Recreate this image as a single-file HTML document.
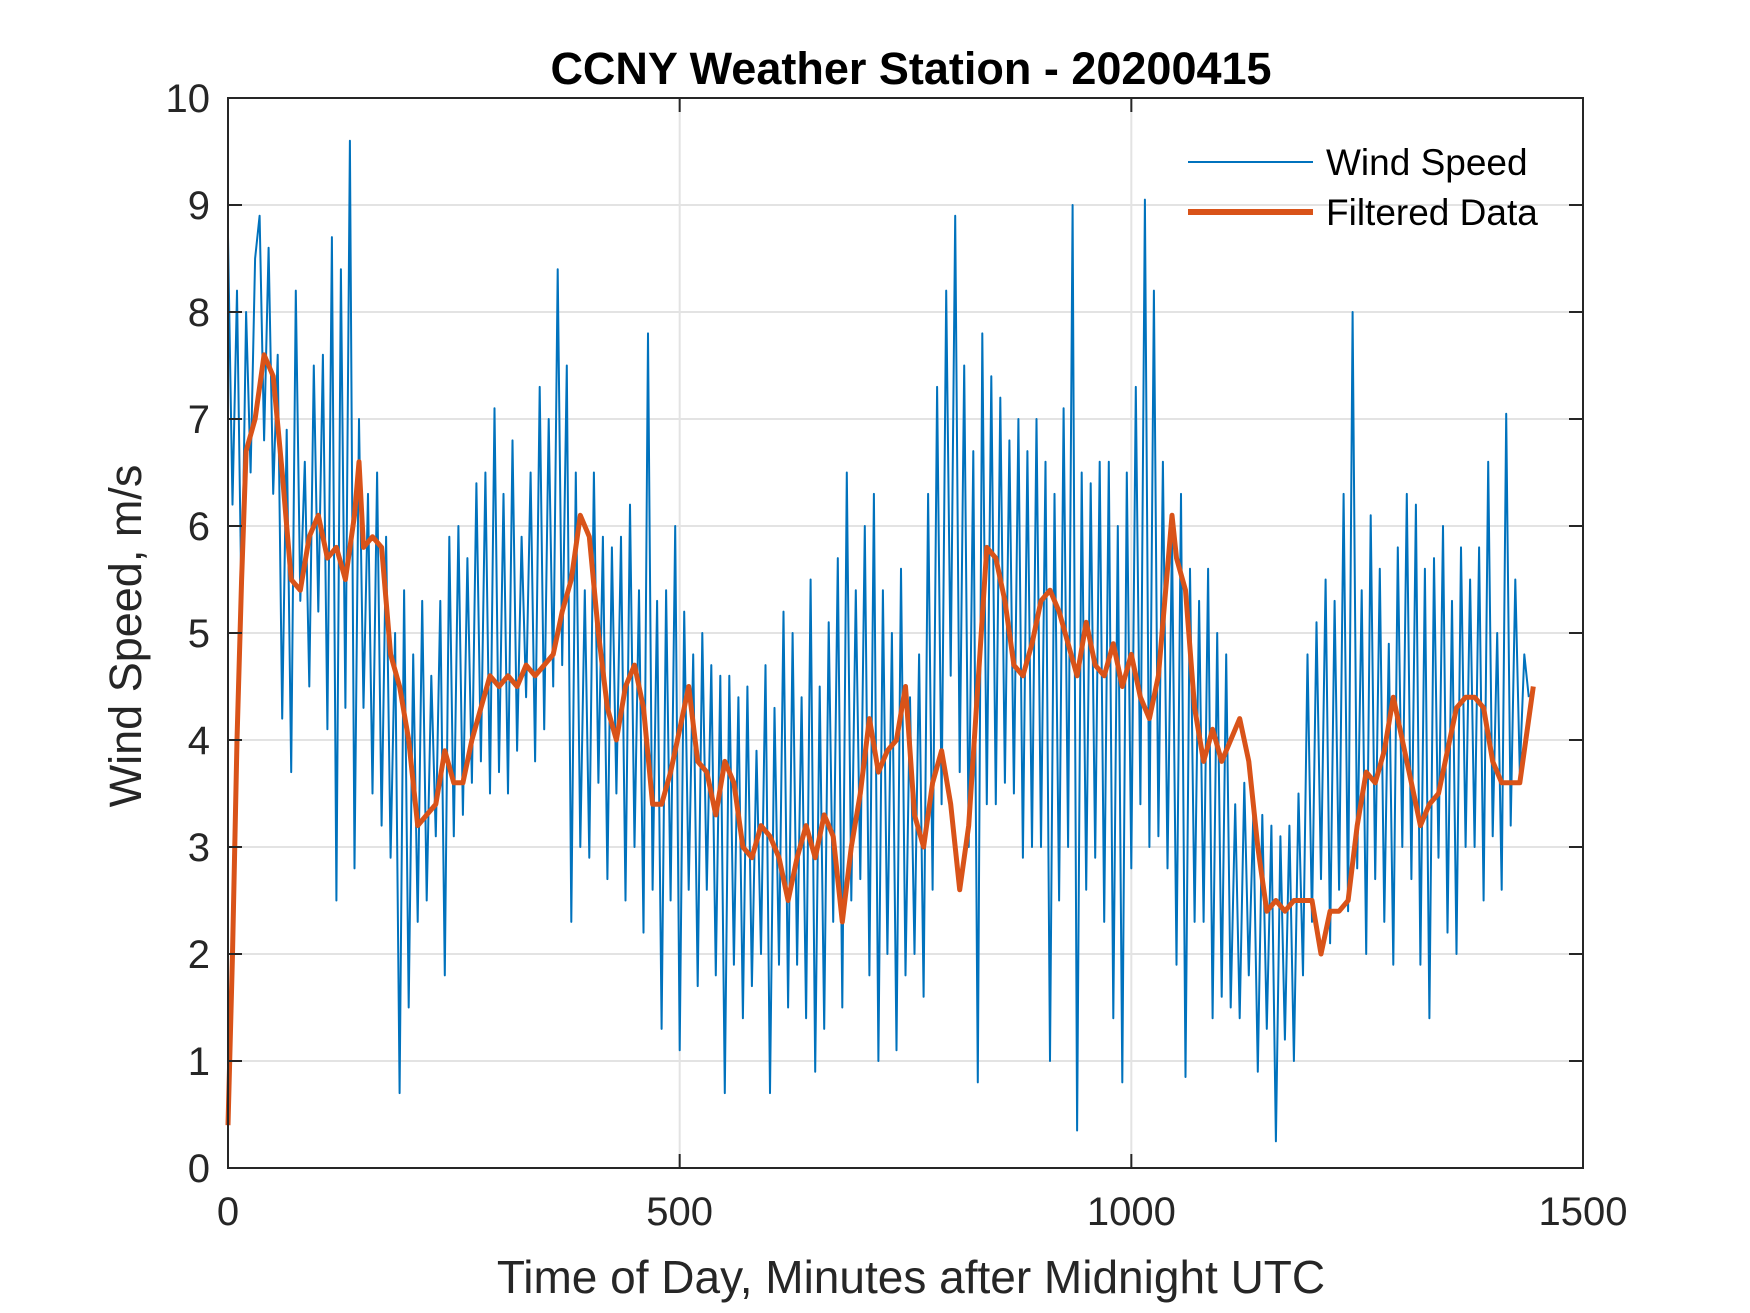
<!DOCTYPE html>
<html><head><meta charset="utf-8">
<style>
html,body{margin:0;padding:0;background:#fff;}
svg{display:block;font-family:"Liberation Sans",Arial,sans-serif;}
</style></head>
<body>
<svg id="chart" width="1750" height="1313" viewBox="0 0 1750 1313">
  <rect x="0" y="0" width="1750" height="1313" fill="#fff"/>
  <g id="grid"></g>
  <g id="series"></g>
  <g id="axes"></g>
  <text x="911" y="84" text-anchor="middle" font-size="45" font-weight="bold" fill="#000">CCNY Weather Station - 20200415</text>
  <text x="0" y="0" transform="translate(141,636) rotate(-90)" text-anchor="middle" font-size="45" fill="#262626">Wind Speed, m/s</text>
  <text x="911" y="1293" text-anchor="middle" font-size="46" fill="#262626">Time of Day, Minutes after Midnight UTC</text>
  <g>
    <g>
      <line x1="1188" y1="162" x2="1313" y2="162" stroke="#0072BD" stroke-width="2"/>
      <text x="1326" y="175" font-size="37" fill="#000">Wind Speed</text>
    </g>
    <g>
      <line x1="1188" y1="212" x2="1313" y2="212" stroke="#D95319" stroke-width="6"/>
      <text x="1326" y="225" font-size="37" fill="#000">Filtered Data</text>
    </g>
  </g>
</svg>
<script>
const xTicks = [0, 500, 1000, 1500];
const yTicks = [0,1,2,3,4,5,6,7,8,9,10];
const windStep = 5;
const windSpeed = [
8.7,6.2,8.2,5.2,8.0,6.5,8.5,8.9,6.8,8.6,6.3,7.6,
4.2,6.9,3.7,8.2,5.3,6.6,4.5,7.5,5.2,7.6,4.1,8.7,
2.5,8.4,4.3,9.6,2.8,7.0,4.3,6.3,3.5,6.5,3.2,5.9,
2.9,5.0,0.7,5.4,1.5,4.8,2.3,5.3,2.5,4.6,3.1,5.3,
1.8,5.9,3.1,6.0,3.3,5.7,3.6,6.4,3.8,6.5,3.5,7.1,
3.7,6.3,3.5,6.8,3.9,5.9,4.4,6.5,3.8,7.3,4.1,7.0,
4.5,8.4,4.7,7.5,2.3,6.5,3.0,5.4,2.9,6.5,3.6,5.9,
2.7,5.8,3.5,5.9,2.5,6.2,3.0,5.4,2.2,7.8,2.6,5.3,
1.3,5.4,2.5,6.0,1.1,5.2,2.6,4.8,1.7,5.0,2.6,4.7,
1.8,4.6,0.7,4.6,1.9,4.4,1.4,4.5,1.7,3.9,2.0,4.7,
0.7,4.3,1.9,5.2,1.5,5.0,1.9,4.4,1.4,5.5,0.9,4.5,
1.3,5.1,2.3,5.7,1.5,6.5,2.5,5.4,2.7,6.0,1.8,6.3,
1.0,5.4,2.0,5.0,1.1,5.6,1.8,4.4,2.0,4.8,1.6,6.3,
2.6,7.3,3.4,8.2,4.6,8.9,3.7,7.5,3.0,6.7,0.8,7.8,
3.4,7.4,3.4,7.2,3.6,6.8,3.5,7.0,2.9,6.7,3.0,7.0,
3.0,6.6,1.0,6.3,2.5,7.1,3.0,9.0,0.35,6.5,2.6,6.4,
2.9,6.6,2.3,6.6,1.4,6.0,0.8,6.5,2.8,7.3,3.4,9.05,
3.0,8.2,3.1,6.6,2.8,5.9,1.9,6.3,0.85,5.6,2.3,5.3,
2.3,5.6,1.4,5.0,1.6,4.8,1.5,3.4,1.4,3.6,1.8,3.3,
0.9,3.3,1.3,3.2,0.25,3.1,1.2,3.2,1.0,3.5,1.8,4.8,
2.3,5.1,2.7,5.5,2.1,5.3,2.6,6.3,2.4,8.0,2.8,5.4,
2.0,6.1,2.7,5.6,2.3,4.9,1.9,5.8,3.0,6.3,2.7,6.2,
1.9,5.6,1.4,5.7,2.9,6.0,2.2,5.3,2.0,5.8,3.0,5.5,
3.0,5.8,2.5,6.6,3.1,5.0,2.6,7.05,3.2,5.5,3.7,4.8,4.4
];
const filteredT = [0,5,10,15,20,30,40,50,60,70,80,90,100,110,120,130,140,145,150,160,170,180,190,200,210,220,230,240,250,260,270,280,290,300,310,320,330,340,350,360,370,380,390,400,410,420,430,440,450,460,470,480,490,500,510,520,530,540,550,560,570,580,590,600,610,620,630,640,650,660,670,680,690,700,710,720,730,740,750,760,770,780,790,800,810,820,830,840,850,860,870,880,890,900,910,920,930,940,950,960,970,980,990,1000,1010,1020,1030,1040,1045,1050,1060,1070,1080,1090,1100,1110,1120,1130,1140,1150,1160,1170,1180,1190,1200,1210,1220,1230,1240,1250,1260,1270,1280,1290,1300,1310,1320,1330,1340,1350,1360,1370,1380,1390,1400,1410,1420,1430,1440,1445];
const filteredV = [0.4,2.0,4.0,5.5,6.7,7.0,7.6,7.4,6.5,5.5,5.4,5.9,6.1,5.7,5.8,5.5,6.1,6.6,5.8,5.9,5.8,4.8,4.5,4.0,3.2,3.3,3.4,3.9,3.6,3.6,4.0,4.3,4.6,4.5,4.6,4.5,4.7,4.6,4.7,4.8,5.2,5.5,6.1,5.9,5.0,4.3,4.0,4.5,4.7,4.3,3.4,3.4,3.7,4.1,4.5,3.8,3.7,3.3,3.8,3.6,3.0,2.9,3.2,3.1,2.9,2.5,2.9,3.2,2.9,3.3,3.1,2.3,3.0,3.5,4.2,3.7,3.9,4.0,4.5,3.3,3.0,3.6,3.9,3.4,2.6,3.2,4.5,5.8,5.7,5.3,4.7,4.6,4.9,5.3,5.4,5.2,4.9,4.6,5.1,4.7,4.6,4.9,4.5,4.8,4.4,4.2,4.6,5.6,6.1,5.7,5.4,4.3,3.8,4.1,3.8,4.0,4.2,3.8,3.0,2.4,2.5,2.4,2.5,2.5,2.5,2.0,2.4,2.4,2.5,3.2,3.7,3.6,3.9,4.4,4.0,3.6,3.2,3.4,3.5,3.9,4.3,4.4,4.4,4.3,3.8,3.6,3.6,3.6,4.2,4.5];

const L=228, R=1583, T=98, B=1168;
const xMin=0, xMax=1500, yMin=0, yMax=10;
function xs(v){return L+(v-xMin)/(xMax-xMin)*(R-L);}
function ys(v){return B-(v-yMin)/(yMax-yMin)*(B-T);}
const NS='http://www.w3.org/2000/svg';
function mk(tag, attrs){const e=document.createElementNS(NS,tag);for(const k in attrs)e.setAttribute(k,attrs[k]);return e;}
const grid=document.getElementById('grid'), axes=document.getElementById('axes'), series=document.getElementById('series');

yTicks.forEach(v=>{
  const y=ys(v);
  if(v>yMin && v<yMax){
    const g=mk('line',{x1:L,x2:R,y1:y,y2:y,stroke:'#e3e3e3','stroke-width':2});
    
    
    grid.appendChild(g);
  }
  const t1=mk('line',{x1:L,x2:L+14,y1:y,y2:y,stroke:'#262626','stroke-width':2});
  
  
  axes.appendChild(t1);
  const t2=mk('line',{x1:R-14,x2:R,y1:y,y2:y,stroke:'#262626','stroke-width':2});
  
  
  axes.appendChild(t2);
  const lb=mk('text',{x:L-18,y:y+14,'text-anchor':'end','font-size':40,fill:'#262626'});
  lb.textContent=String(v);
  
  
  axes.appendChild(lb);
});
xTicks.forEach(v=>{
  const x=xs(v);
  if(v>xMin && v<xMax){
    const g=mk('line',{x1:x,x2:x,y1:T,y2:B,stroke:'#e3e3e3','stroke-width':2});
    
    
    grid.appendChild(g);
  }
  const t1=mk('line',{x1:x,x2:x,y1:B,y2:B-14,stroke:'#262626','stroke-width':2});
  
  
  axes.appendChild(t1);
  const t2=mk('line',{x1:x,x2:x,y1:T,y2:T+14,stroke:'#262626','stroke-width':2});
  
  
  axes.appendChild(t2);
  const lb=mk('text',{x:x,y:B+57,'text-anchor':'middle','font-size':40,fill:'#262626'});
  lb.textContent=String(v);
  
  
  axes.appendChild(lb);
});
const box=mk('rect',{x:L,y:T,width:R-L,height:B-T,fill:'none',stroke:'#262626','stroke-width':2});


axes.appendChild(box);

const wp=windSpeed.map((v,i)=>xs(i*windStep).toFixed(1)+','+ys(v).toFixed(1)).join(' ');
const wl=mk('polyline',{points:wp,fill:'none',stroke:'#0072BD','stroke-width':2,'stroke-linejoin':'round'});


series.appendChild(wl);
const fp=filteredV.map((v,i)=>xs(filteredT[i]).toFixed(1)+','+ys(v).toFixed(1)).join(' ');
const fl=mk('polyline',{points:fp,fill:'none',stroke:'#D95319','stroke-width':5,'stroke-linejoin':'round'});


series.appendChild(fl);
</script>
</body></html>
